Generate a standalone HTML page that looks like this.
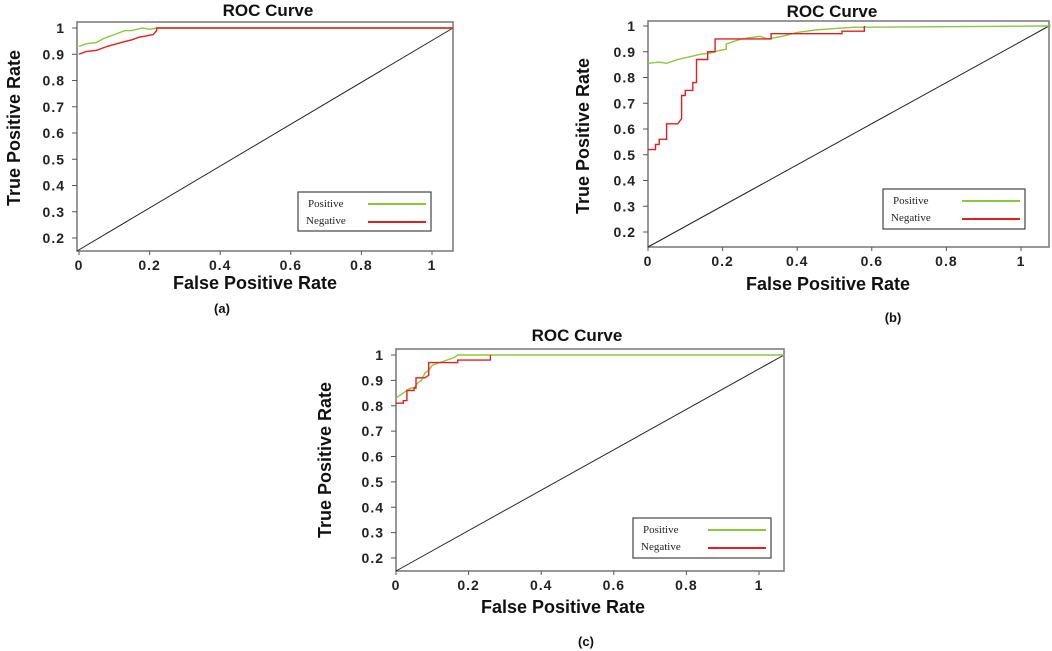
<!DOCTYPE html>
<html><head><meta charset="utf-8"><style>
html,body{margin:0;padding:0;background:#fff;}
svg{display:block;}
text{font-family:"Liberation Sans",sans-serif;}
.tick{font-weight:bold;font-size:14px;letter-spacing:1px;fill:#222;}
.title{font-weight:bold;font-size:17px;fill:#111;}
.axt{font-weight:bold;font-size:18px;fill:#111;}
.leg{font-family:"Liberation Serif",serif;font-size:11px;fill:#222;}
.cap{font-weight:bold;font-size:13px;fill:#111;}
</style></head><body>
<svg id="chart" width="1052" height="651"></svg>
<script>
const yTicks=[1,0.9,0.8,0.7,0.6,0.5,0.4,0.3,0.2];
const xTicks=[0,0.2,0.4,0.6,0.8,1];
const xTickLabels=["0","0.2","0.4","0.6","0.8","1"];
const yTickLabels=["1","0.9","0.8","0.7","0.6","0.5","0.4","0.3","0.2"];
const aPosX=[0,0.02,0.05,0.07,0.1,0.13,0.15,0.18,0.2,0.22,1.06];
const aPosY=[0.93,0.94,0.945,0.96,0.975,0.99,0.99,1.0,0.995,1,1];
const aNegX=[0,0.02,0.05,0.08,0.12,0.15,0.17,0.19,0.21,0.22,0.22,1.06];
const aNegY=[0.90,0.91,0.915,0.93,0.945,0.955,0.965,0.97,0.975,0.99,1.0,1];
const bPosX=[0,0.03,0.05,0.08,0.11,0.14,0.17,0.19,0.21,0.21,0.25,0.3,0.32,0.36,0.4,0.45,0.5,0.55,1.08];
const bPosY=[0.855,0.86,0.855,0.87,0.88,0.89,0.895,0.905,0.91,0.93,0.95,0.96,0.95,0.96,0.975,0.985,0.99,0.995,1.0];
const bNegX=[0,0.02,0.02,0.03,0.03,0.05,0.05,0.08,0.09,0.09,0.1,0.1,0.12,0.12,0.13,0.13,0.16,0.16,0.18,0.18,0.33,0.33,0.52,0.52,0.58,0.58];
const bNegY=[0.52,0.52,0.54,0.54,0.56,0.56,0.62,0.62,0.64,0.73,0.73,0.75,0.75,0.78,0.78,0.87,0.87,0.90,0.90,0.95,0.95,0.97,0.97,0.98,0.98,1.0];
const cPosX=[0,0.01,0.02,0.03,0.04,0.05,0.06,0.07,0.08,0.09,0.1,0.12,0.14,0.16,0.17,1.07];
const cPosY=[0.83,0.84,0.85,0.86,0.87,0.87,0.89,0.9,0.93,0.94,0.96,0.97,0.98,0.99,1,1];
const cNegX=[0,0.02,0.02,0.03,0.03,0.05,0.05,0.055,0.055,0.08,0.09,0.09,0.17,0.17,0.26,0.26];
const cNegY=[0.81,0.81,0.82,0.82,0.86,0.86,0.87,0.87,0.91,0.91,0.92,0.97,0.97,0.98,0.98,1];

const panels=[
 {id:'a',L:77,R:453,T:22,B:251,x0:79,x1:432,y1:28,y02:238,leg:[298,192,133,39],title:[268,16],xt:[255,289],cap:[222,313],yt:[20,128],
  pos:[aPosX,aPosY],neg:[aNegX,aNegY]},
 {id:'b',L:648,R:1049,T:21,B:247,x0:648,x1:1021,y1:26,y02:232,leg:[883,189,142,40],title:[832,17],xt:[828,290],cap:[893,322],yt:[589,136],
  pos:[bPosX,bPosY],neg:[bNegX,bNegY]},
 {id:'c',L:396,R:784,T:349,B:571,x0:396,x1:759,y1:355,y02:558,leg:[633,518,138,40],title:[577,341],xt:[563,613],cap:[586,646],yt:[331,460],
  pos:[cPosX,cPosY],neg:[cNegX,cNegY]}
];
const NS='http://www.w3.org/2000/svg';
const svg=document.getElementById('chart');
function mk(tag,attrs,parent,txt){const e=document.createElementNS(NS,tag);for(const k in attrs)e.setAttribute(k,attrs[k]);if(txt!==undefined)e.textContent=txt;(parent||svg).appendChild(e);return e;}
panels.forEach(p=>{
 const g=mk('g',{});
 
 
 const sx=v=>p.x0+v*(p.x1-p.x0);
 const sy=v=>p.y1+(1-v)*(p.y02-p.y1)/0.8;
 const t=mk('text',{x:p.title[0],y:p.title[1],'text-anchor':'middle',class:'title'},g,'ROC Curve');
 
 
 const fr=mk('rect',{x:p.L,y:p.T,width:p.R-p.L,height:p.B-p.T,fill:'none',stroke:'#777','stroke-width':1.5},g);
 
 
 yTicks.forEach((v,i)=>{
  mk('line',{x1:p.L-5,x2:p.L,y1:sy(v),y2:sy(v),stroke:'#555'},g);
  const tl=mk('text',{x:p.L-12,y:sy(v)+5,'text-anchor':'end',class:'tick'},g,yTickLabels[i]);
  
  
 });
 xTicks.forEach((v,i)=>{
  mk('line',{x1:sx(v),x2:sx(v),y1:p.B,y2:p.B+4,stroke:'#555'},g);
  const tl=mk('text',{x:sx(v),y:p.B+19,'text-anchor':'middle',class:'tick','font-size':'15'},g,xTickLabels[i]);
  
  
 });
 const d=mk('line',{x1:p.L,y1:p.B,x2:p.R,y2:sy(1),stroke:'#222','stroke-width':1},g);
 
 
 [[p.pos,'#8cc63f','positive-curve'],[p.neg,'#e02020','negative-curve']].forEach(([s,c,n])=>{
  const pts=s[0].map((x,i)=>sx(x).toFixed(1)+','+sy(s[1][i]).toFixed(1)).join(' ');
  const pl=mk('polyline',{points:pts,fill:'none',stroke:c,'stroke-width':1.4},g);
  
  
 });
 const lg=mk('g',{},g);
 
 
 const [lx,ly,lw,lh]=p.leg;
 mk('rect',{x:lx,y:ly,width:lw,height:lh,fill:'#fff',stroke:'#444','stroke-width':1.2},lg);
 mk('text',{x:lx+10,y:ly+15,class:'leg'},lg,'Positive');
 mk('text',{x:lx+8,y:ly+32,class:'leg'},lg,'Negative');
 mk('line',{x1:lx+lw-63,x2:lx+lw-5,y1:ly+12,y2:ly+12,stroke:'#8cc63f','stroke-width':2},lg);
 mk('line',{x1:lx+lw-63,x2:lx+lw-5,y1:ly+30,y2:ly+30,stroke:'#e02020','stroke-width':2},lg);
 const xt=mk('text',{x:p.xt[0],y:p.xt[1],'text-anchor':'middle',class:'axt'},g,'False Positive Rate');
 
 
 const yt=mk('text',{x:p.yt[0],y:p.yt[1],'text-anchor':'middle',class:'axt',transform:'rotate(-90 '+p.yt[0]+' '+p.yt[1]+')'},g,'True Positive Rate');
 
 
 const cp=mk('text',{x:p.cap[0],y:p.cap[1],'text-anchor':'middle',class:'cap'},g,'('+p.id+')');
 
 
});
</script>
</body></html>
